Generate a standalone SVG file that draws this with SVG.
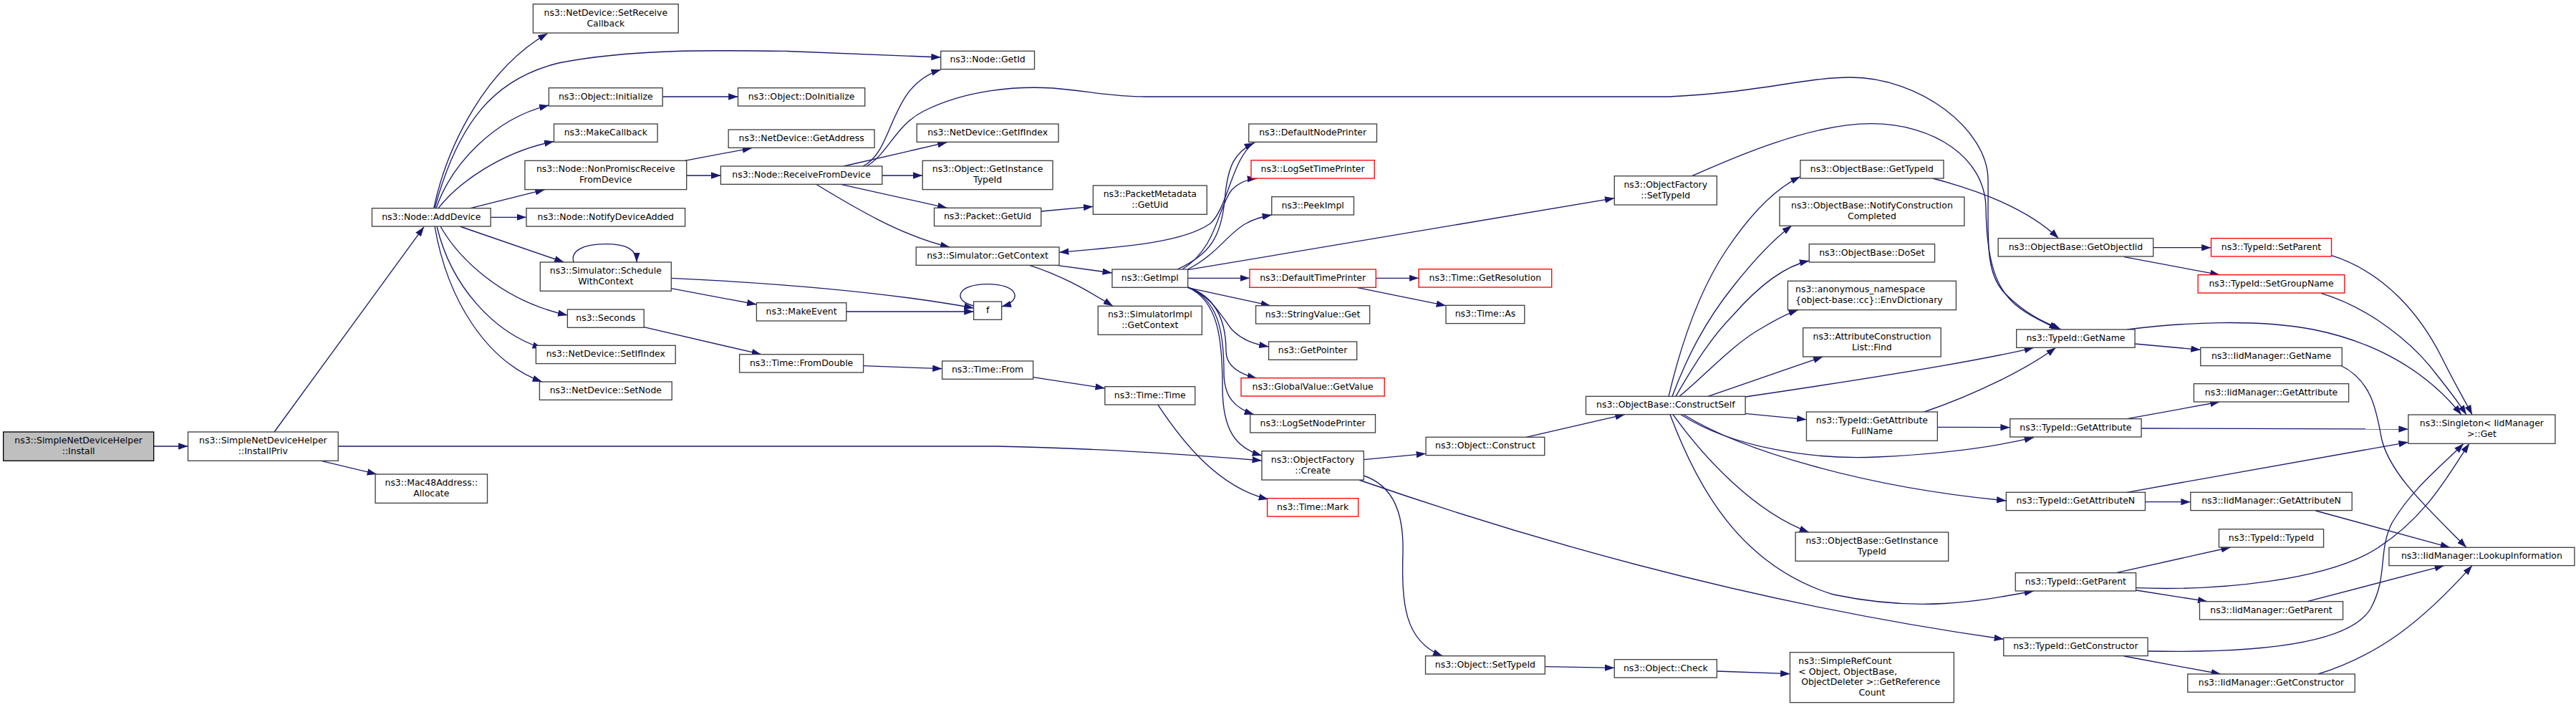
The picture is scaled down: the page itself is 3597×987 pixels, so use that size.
<svg xmlns="http://www.w3.org/2000/svg" width="3597" height="987" viewBox="0 0 3597 987">
<style>
.nd rect{fill:#ffffff;stroke:#404040;stroke-width:1.33}
.rd rect{fill:#ffffff;stroke:#ff0000;stroke-width:1.33}
.rt rect{fill:#bfbfbf;stroke:#000000;stroke-width:1.33}
text{font-family:"DejaVu Sans","Liberation Sans",sans-serif;font-size:12.45px;fill:#000;text-anchor:middle}
text.l{text-anchor:start}
#edges path{fill:none;stroke:#191970;stroke-width:1.33;marker-end:url(#ah)}
</style>
<defs>
<marker id="ah" markerUnits="userSpaceOnUse" viewBox="0 0 13.4 9.4" markerWidth="13.4" markerHeight="9.4" refX="13.4" refY="4.7" orient="auto"><path d="M0,0 L13.4,4.7 L0,9.4 z" fill="#191970"/></marker>
</defs>
<rect width="3597" height="987" fill="#ffffff"/>
<g id="edges">
<path d="M214.7,623 L262.5,623"/>
<path d="M383,603 L592,316.7"/>
<path d="M448.5,643.3 L526,662"/>
<path d="M472.2,623 L1390,623 C1500,625 1640,633 1762,643"/>
<path d="M605.7,290.7 C625,200 680,95 764.6,46.7"/>
<path d="M607,290.7 C640,170 690,110 780,88 C880,68 1000,70 1100,71.5 L1313.7,80"/>
<path d="M609,290.7 C630,230 690,165 766.5,147"/>
<path d="M612,290.7 C640,255 700,212 773.4,197.5"/>
<path d="M657,290.7 L760.7,264.7"/>
<path d="M685,303.3 L735,303.3"/>
<path d="M642,316 L787.5,366"/>
<path d="M615,316 C640,360 700,420 792.4,440"/>
<path d="M610,316 C630,400 690,465 757,486"/>
<path d="M607,316 C625,420 680,505 757,533"/>
<path d="M956,224.3 L1050,206.7"/>
<path d="M958.7,245 L1006.4,245"/>
<path d="M925.2,135 L1030.5,135"/>
<path d="M801,366 C796,350 815,340.7 845,340.7 C875,340.7 889,348 889,366"/>
<path d="M937.3,402.7 L1056.4,425"/>
<path d="M937.3,388.3 C1100,396 1250,410 1359.6,430"/>
<path d="M1181.8,435 L1359.6,435"/>
<path d="M1359.6,427 C1330,420 1335,396.7 1379,396.7 C1423,396.7 1428,420 1398.6,428"/>
<path d="M899.2,456.7 L1063,494.7"/>
<path d="M1205.6,510.7 L1315.6,514.7"/>
<path d="M1442.6,526.7 L1542.9,542"/>
<path d="M1617,565.3 C1650,615 1700,680 1771,697"/>
<path d="M1178,232 L1322.5,198.7"/>
<path d="M1205,232 C1250,210 1240,120 1313.7,97.3"/>
<path d="M1210,232 C1240,215 1250,175 1290,155 C1350,125 1420,120 1470,123 C1520,127 1550,135 1600,135 L2330,135 C2450,130 2520,108 2584,108 C2680,108 2775,180 2776,250 C2777,330 2770,380 2800,410 C2830,440 2855,450 2878,460"/>
<path d="M2362.6,245.7 C2420,220 2530,172 2614,172.7 C2700,173 2772,220 2773,290 C2774,360 2785,405 2820,430 C2840,445 2860,452 2874.5,460"/>
<path d="M1231.8,245 L1288.2,245"/>
<path d="M1174,257.3 L1322.5,290.3"/>
<path d="M1139.6,257.3 C1190,288 1260,330 1326.3,345"/>
<path d="M1453.7,295 L1526.4,288.3"/>
<path d="M1475.5,370.3 L1552.9,381"/>
<path d="M1437.3,370.3 C1475,382 1510,400 1554,427.3"/>
<path d="M1752,198.7 C1720,220 1715,290 1690,312 C1650,340 1560,345 1479,352.3"/>
<path d="M1644,376 C1690,355 1705,330 1710,280 C1714,230 1725,212 1751,199.3"/>
<path d="M1651,376 C1700,345 1700,290 1720,265 C1730,255 1740,250 1755,249.3"/>
<path d="M1658.5,376 C1700,355 1715,325 1740,312 C1752,305 1765,302 1776,300"/>
<path d="M1658.5,376.7 L2254.3,276.7"/>
<path d="M1658.5,388.3 L1745,388.3"/>
<path d="M1658.5,401.7 L1774,426.7"/>
<path d="M1658.5,401 C1690,412 1705,440 1720,460 C1735,475 1750,480 1771.5,484"/>
<path d="M1658.5,401 C1700,415 1712,450 1712,490 C1712,510 1730,522 1755,528"/>
<path d="M1658.5,401 C1700,418 1709,460 1709,520 C1709,555 1725,570 1751,578.7"/>
<path d="M1658.5,401 C1700,420 1707,470 1707,540 C1707,600 1725,625 1762,636"/>
<path d="M1921.3,388.3 L1981,388.3"/>
<path d="M1895.7,401.7 L2019,426.7"/>
<path d="M1904.2,641.7 L1991,633.3"/>
<path d="M1904.2,664 C1945,678 1960,715 1959,770 C1957,840 1960,895 2014.3,915.7"/>
<path d="M1897.6,670 C2200,775 2500,850 2798,892.3"/>
<path d="M2131,610.3 L2268.8,578.7"/>
<path d="M2157.3,930.7 L2254.3,932.3"/>
<path d="M2397.4,937 L2499.5,940.7"/>
<path d="M2330,553.3 C2345,490 2370,410 2410,350 C2440,305 2475,265 2513.8,246.7"/>
<path d="M2335,553.3 C2355,500 2380,450 2420,400 C2450,362 2475,335 2502,315"/>
<path d="M2340,553.3 C2365,510 2390,470 2420,440 C2455,400 2490,372 2526.3,364"/>
<path d="M2345,553.3 C2380,525 2420,480 2460,458 C2480,446 2495,438 2511,432.6"/>
<path d="M2385,553.3 L2545.4,498"/>
<path d="M2437,554 C2600,530 2760,505 2840,485.3"/>
<path d="M2437,577.3 L2522.5,585.7"/>
<path d="M2347,578.7 C2420,625 2530,642 2620,638 C2710,634 2780,625 2840,610.7"/>
<path d="M2351,578.7 C2430,628 2600,680 2801.4,699"/>
<path d="M2336,578.7 C2380,640 2450,715 2526,743"/>
<path d="M2332,578.7 C2370,680 2430,790 2560,830 C2680,855 2760,840 2840,825"/>
<path d="M2698.5,249 C2760,265 2830,290 2874.5,332.7"/>
<path d="M3006.6,345.7 L3087.5,345.7"/>
<path d="M2966,358.7 L3099.5,383.7"/>
<path d="M3255.5,356.7 C3330,380 3380,440 3410,500 C3430,540 3445,565 3452,579"/>
<path d="M3241,409.3 C3310,430 3370,480 3400,520 C3420,545 3435,565 3444,579"/>
<path d="M2970,460 C3050,450 3150,445 3230,460 C3320,478 3390,520 3437,579"/>
<path d="M2981,480 L3072.7,488.3"/>
<path d="M3268,510 C3310,530 3318,570 3325,610 C3335,660 3390,710 3444,764.3"/>
<path d="M2970,584.7 L3099.5,561"/>
<path d="M2990,598 L3362.8,599"/>
<path d="M2970,687.3 L3362.8,617.3"/>
<path d="M2995.4,700.7 L3058.8,700.7"/>
<path d="M3233.4,713 L3421,764.3"/>
<path d="M2955,799.7 L3114.8,764"/>
<path d="M2982.8,820.7 C3100,825 3250,810 3320,765 C3390,720 3420,660 3448,619.3"/>
<path d="M2982.8,824 L3082.3,839.7"/>
<path d="M3222,839.7 L3413,789.6"/>
<path d="M2999,909 C3150,912 3280,900 3310,850 C3335,805 3320,770 3340,730 C3370,680 3410,650 3440,619.3"/>
<path d="M2966,916 L3101,941"/>
<path d="M3237,941 C3320,915 3380,870 3452,789.6"/>
<path d="M2687,575 C2760,550 2830,515 2870.7,485.3"/>
<path d="M2705.4,596.3 L2806.8,596.7"/>
</g>
<g id="install" class="rt"><rect x="4.65" y="603" width="210" height="40.3"/><text x="109.65" y="619.15">ns3::SimpleNetDeviceHelper</text><text x="109.65" y="633.85">::Install</text></g>
<g id="installpriv" class="nd"><rect x="262.5" y="603" width="209.7" height="40.3"/><text x="367.35" y="619.15">ns3::SimpleNetDeviceHelper</text><text x="367.35" y="633.85">::InstallPriv</text></g>
<g id="adddevice" class="nd"><rect x="519.45" y="290.7" width="165.7" height="25.3"/><text x="602.3" y="306.7">ns3::Node::AddDevice</text></g>
<g id="mac48" class="nd"><rect x="524.1" y="662" width="156.4" height="40.3"/><text x="602.3" y="678.15">ns3::Mac48Address::</text><text x="602.3" y="692.85">Allocate</text></g>
<g id="setreceivecallback" class="nd"><rect x="744.4" y="5.7" width="202.8" height="40.3"/><text x="845.8" y="21.85">ns3::NetDevice::SetReceive</text><text x="845.8" y="36.55">Callback</text></g>
<g id="initialize" class="nd"><rect x="766.4" y="122.7" width="158.8" height="25.3"/><text x="845.8" y="138.7">ns3::Object::Initialize</text></g>
<g id="makecallback" class="nd"><rect x="773.5" y="173" width="144.6" height="25.3"/><text x="845.8" y="189">ns3::MakeCallback</text></g>
<g id="nonpromisc" class="nd"><rect x="732.9" y="224.3" width="225.8" height="40.3"/><text x="845.8" y="240.45">ns3::Node::NonPromiscReceive</text><text x="845.8" y="255.15">FromDevice</text></g>
<g id="notifydeviceadded" class="nd"><rect x="735" y="290.7" width="221.6" height="25.3"/><text x="845.8" y="306.7">ns3::Node::NotifyDeviceAdded</text></g>
<g id="schedulewithcontext" class="nd"><rect x="754.3" y="366" width="183" height="40.3"/><text x="845.8" y="382.15">ns3::Simulator::Schedule</text><text x="845.8" y="396.85">WithContext</text></g>
<g id="seconds" class="nd"><rect x="792.4" y="432" width="106.8" height="25.3"/><text x="845.8" y="448">ns3::Seconds</text></g>
<g id="setifindex" class="nd"><rect x="748.4" y="482.3" width="194.8" height="25.3"/><text x="845.8" y="498.3">ns3::NetDevice::SetIfIndex</text></g>
<g id="setnode" class="nd"><rect x="753.4" y="533" width="184.8" height="25.3"/><text x="845.8" y="549">ns3::NetDevice::SetNode</text></g>
<g id="doinitialize" class="nd"><rect x="1030.5" y="122.7" width="177.2" height="25.3"/><text x="1119.1" y="138.7">ns3::Object::DoInitialize</text></g>
<g id="getaddress" class="nd"><rect x="1017.15" y="181" width="203.9" height="25.3"/><text x="1119.1" y="197">ns3::NetDevice::GetAddress</text></g>
<g id="receivefromdevice" class="nd"><rect x="1006.4" y="232" width="225.4" height="25.3"/><text x="1119.1" y="248">ns3::Node::ReceiveFromDevice</text></g>
<g id="makeevent" class="nd"><rect x="1056.4" y="422.7" width="125.4" height="25.3"/><text x="1119.1" y="438.7">ns3::MakeEvent</text></g>
<g id="fromdouble" class="nd"><rect x="1032.6" y="494.7" width="173" height="25.3"/><text x="1119.1" y="510.7">ns3::Time::FromDouble</text></g>
<g id="getid" class="nd"><rect x="1313.7" y="71.3" width="130.8" height="25.3"/><text x="1379.1" y="87.3">ns3::Node::GetId</text></g>
<g id="getifindex" class="nd"><rect x="1280.2" y="173" width="197.8" height="25.3"/><text x="1379.1" y="189">ns3::NetDevice::GetIfIndex</text></g>
<g id="objgetinstancetypeid" class="nd"><rect x="1288.2" y="224.3" width="181.8" height="40.3"/><text x="1379.1" y="240.45">ns3::Object::GetInstance</text><text x="1379.1" y="255.15">TypeId</text></g>
<g id="packetgetuid" class="nd"><rect x="1304.5" y="290.3" width="149.2" height="25.3"/><text x="1379.1" y="306.3">ns3::Packet::GetUid</text></g>
<g id="simgetcontext" class="nd"><rect x="1279.2" y="345" width="199.8" height="25.3"/><text x="1379.1" y="361">ns3::Simulator::GetContext</text></g>
<g id="f" class="nd"><rect x="1359.6" y="421" width="39" height="25.3"/><text x="1379.1" y="437">f</text></g>
<g id="timefrom" class="nd"><rect x="1315.6" y="504" width="127" height="25.3"/><text x="1379.1" y="520">ns3::Time::From</text></g>
<g id="pktmetagetuid" class="nd"><rect x="1526.35" y="259" width="158.9" height="40.3"/><text x="1605.8" y="275.15">ns3::PacketMetadata</text><text x="1605.8" y="289.85">::GetUid</text></g>
<g id="getimpl" class="nd"><rect x="1552.95" y="376" width="105.7" height="25.3"/><text x="1605.8" y="392">ns3::GetImpl</text></g>
<g id="simimplgetcontext" class="nd"><rect x="1533.25" y="427.3" width="145.1" height="40"/><text x="1605.8" y="443.3">ns3::SimulatorImpl</text><text x="1605.8" y="458">::GetContext</text></g>
<g id="timetime" class="nd"><rect x="1542.85" y="539.7" width="125.9" height="25.3"/><text x="1605.8" y="555.7">ns3::Time::Time</text></g>
<g id="defaultnodeprinter" class="nd"><rect x="1743.75" y="173" width="178.7" height="25.3"/><text x="1833.1" y="189">ns3::DefaultNodePrinter</text></g>
<g id="logsettimeprinter" class="rd"><rect x="1747" y="223.7" width="172.2" height="25.3"/><text x="1833.1" y="239.7">ns3::LogSetTimePrinter</text></g>
<g id="peekimpl" class="nd"><rect x="1775.75" y="274.7" width="114.7" height="25.3"/><text x="1833.1" y="290.7">ns3::PeekImpl</text></g>
<g id="defaulttimeprinter" class="rd"><rect x="1744.95" y="376" width="176.3" height="25.3"/><text x="1833.1" y="392">ns3::DefaultTimePrinter</text></g>
<g id="stringvalueget" class="nd"><rect x="1753.55" y="426.7" width="159.1" height="25.3"/><text x="1833.1" y="442.7">ns3::StringValue::Get</text></g>
<g id="getpointer" class="nd"><rect x="1771.55" y="477" width="123.1" height="25.3"/><text x="1833.1" y="493">ns3::GetPointer</text></g>
<g id="globalvaluegetvalue" class="rd"><rect x="1733" y="527.7" width="200.2" height="25.3"/><text x="1833.1" y="543.7">ns3::GlobalValue::GetValue</text></g>
<g id="logsetnodeprinter" class="nd"><rect x="1745.7" y="578.7" width="174.8" height="25.3"/><text x="1833.1" y="594.7">ns3::LogSetNodePrinter</text></g>
<g id="objectfactorycreate" class="nd"><rect x="1761.95" y="629.7" width="142.3" height="40.3"/><text x="1833.1" y="645.85">ns3::ObjectFactory</text><text x="1833.1" y="660.55">::Create</text></g>
<g id="timemark" class="rd"><rect x="1769.6" y="695.7" width="127" height="25.3"/><text x="1833.1" y="711.7">ns3::Time::Mark</text></g>
<g id="timegetresolution" class="rd"><rect x="1981.1" y="375.7" width="185.6" height="25.3"/><text x="2073.9" y="391.7">ns3::Time::GetResolution</text></g>
<g id="timeas" class="nd"><rect x="2019" y="426.3" width="109.8" height="25.3"/><text x="2073.9" y="442.3">ns3::Time::As</text></g>
<g id="objectconstruct" class="nd"><rect x="1991.05" y="610.3" width="165.7" height="25.3"/><text x="2073.9" y="626.3">ns3::Object::Construct</text></g>
<g id="objectsettypeid" class="nd"><rect x="1990.5" y="915.7" width="166.8" height="25.3"/><text x="2073.9" y="931.7">ns3::Object::SetTypeId</text></g>
<g id="objectfactorysettypeid" class="nd"><rect x="2254.25" y="245.7" width="143.1" height="40.3"/><text x="2325.8" y="261.85">ns3::ObjectFactory</text><text x="2325.8" y="276.55">::SetTypeId</text></g>
<g id="constructself" class="nd"><rect x="2214.5" y="553.3" width="222.6" height="25.3"/><text x="2325.8" y="569.3">ns3::ObjectBase::ConstructSelf</text></g>
<g id="objectcheck" class="nd"><rect x="2254.25" y="920.7" width="143.1" height="25.3"/><text x="2325.8" y="936.7">ns3::Object::Check</text></g>
<g id="objectbasegettypeid" class="nd"><rect x="2513.85" y="223.7" width="200.1" height="25.3"/><text x="2613.9" y="239.7">ns3::ObjectBase::GetTypeId</text></g>
<g id="notifyconstructioncompleted" class="nd"><rect x="2484.95" y="275" width="257.9" height="40.3"/><text x="2613.9" y="291.15">ns3::ObjectBase::NotifyConstruction</text><text x="2613.9" y="305.85">Completed</text></g>
<g id="objectbasedoset" class="nd"><rect x="2526.25" y="340.7" width="175.3" height="25.3"/><text x="2613.9" y="356.7">ns3::ObjectBase::DoSet</text></g>
<g id="envdictionary" class="nd"><rect x="2496.4" y="392.3" width="235" height="40.3"/><text class="l" x="2507.1" y="408.45">ns3::anonymous_namespace</text><text class="l" x="2507.1" y="423.15">{object-base::cc}::EnvDictionary</text></g>
<g id="attrconstructionlistfind" class="nd"><rect x="2517.65" y="457.7" width="192.5" height="40.3"/><text x="2613.9" y="473.85">ns3::AttributeConstruction</text><text x="2613.9" y="488.55">List::Find</text></g>
<g id="getattributefullname" class="nd"><rect x="2522.45" y="575" width="182.9" height="40.3"/><text x="2613.9" y="591.15">ns3::TypeId::GetAttribute</text><text x="2613.9" y="605.85">FullName</text></g>
<g id="objectbasegetinstancetypeid" class="nd"><rect x="2507.15" y="743" width="213.5" height="40.3"/><text x="2613.9" y="759.15">ns3::ObjectBase::GetInstance</text><text x="2613.9" y="773.85">TypeId</text></g>
<g id="simplerefcount" class="nd"><rect x="2499.45" y="910.7" width="228.9" height="70"/><text class="l" x="2511.3" y="926.8">ns3::SimpleRefCount</text><text class="l" x="2511.3" y="941.5">&lt; Object, ObjectBase,</text><text class="l" x="2515.2" y="956.2">ObjectDeleter &gt;::GetReference</text><text x="2613.9" y="970.9">Count</text></g>
<g id="getobjectiid" class="nd"><rect x="2790.15" y="332.7" width="216.5" height="25.3"/><text x="2898.4" y="348.7">ns3::ObjectBase::GetObjectIid</text></g>
<g id="typeidgetname" class="nd"><rect x="2815.7" y="460" width="165.4" height="25.3"/><text x="2898.4" y="476">ns3::TypeId::GetName</text></g>
<g id="typeidgetattribute" class="nd"><rect x="2806.75" y="584.7" width="183.3" height="25.3"/><text x="2898.4" y="600.7">ns3::TypeId::GetAttribute</text></g>
<g id="typeidgetattributen" class="nd"><rect x="2801.35" y="687.3" width="194.1" height="25.3"/><text x="2898.4" y="703.3">ns3::TypeId::GetAttributeN</text></g>
<g id="typeidgetparent" class="nd"><rect x="2814.25" y="799.7" width="168.3" height="25.3"/><text x="2898.4" y="815.7">ns3::TypeId::GetParent</text></g>
<g id="typeidgetconstructor" class="nd"><rect x="2797.75" y="890.3" width="201.3" height="25.3"/><text x="2898.4" y="906.3">ns3::TypeId::GetConstructor</text></g>
<g id="typeidsetparent" class="rd"><rect x="3087.5" y="332.7" width="168" height="25.3"/><text x="3171.5" y="348.7">ns3::TypeId::SetParent</text></g>
<g id="typeidsetgroupname" class="rd"><rect x="3069.15" y="383.7" width="204.7" height="25.3"/><text x="3171.5" y="399.7">ns3::TypeId::SetGroupName</text></g>
<g id="iidmanagergetname" class="nd"><rect x="3072.75" y="485.3" width="197.5" height="25.3"/><text x="3171.5" y="501.3">ns3::IidManager::GetName</text></g>
<g id="iidmanagergetattribute" class="nd"><rect x="3063.4" y="535.7" width="216.2" height="25.3"/><text x="3171.5" y="551.7">ns3::IidManager::GetAttribute</text></g>
<g id="iidmanagergetattributen" class="nd"><rect x="3058.8" y="687.3" width="225.4" height="25.3"/><text x="3171.5" y="703.3">ns3::IidManager::GetAttributeN</text></g>
<g id="typeidtypeid" class="nd"><rect x="3098.45" y="738.7" width="146.1" height="25.3"/><text x="3171.5" y="754.7">ns3::TypeId::TypeId</text></g>
<g id="iidmanagergetparent" class="nd"><rect x="3071.45" y="839.7" width="200.1" height="25.3"/><text x="3171.5" y="855.7">ns3::IidManager::GetParent</text></g>
<g id="iidmanagergetconstructor" class="nd"><rect x="3054.75" y="941" width="233.5" height="25.3"/><text x="3171.5" y="957">ns3::IidManager::GetConstructor</text></g>
<g id="singletonget" class="nd"><rect x="3362.85" y="579" width="205.1" height="40.3"/><text x="3465.4" y="595.15">ns3::Singleton&lt; IidManager</text><text x="3465.4" y="609.85">&gt;::Get</text></g>
<g id="lookupinformation" class="nd"><rect x="3335.9" y="764.3" width="259" height="25.3"/><text x="3465.4" y="780.3">ns3::IidManager::LookupInformation</text></g>
</svg>
